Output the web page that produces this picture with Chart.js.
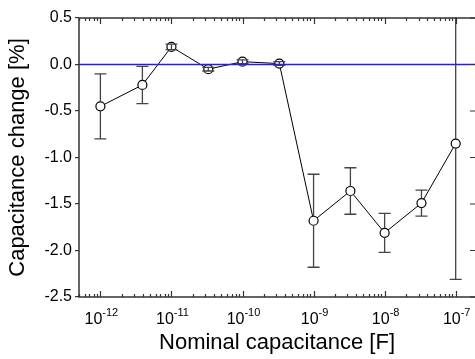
<!DOCTYPE html>
<html>
<head>
<meta charset="utf-8">
<script src="https://cdn.jsdelivr.net/npm/chart.js@4.4.1/dist/chart.umd.min.js"></script>
<style>
  html, body { margin: 0; padding: 0; background: #fff; }
  #wrap { width: 475px; height: 359px; }
</style>
</head>
<body>
<div id="wrap"><canvas id="chart"></canvas></div>
<script>
// nominal capacitance [F]
const capacitance = [1e-12, 3.9e-12, 1e-11, 3.3e-11, 1e-10, 3.3e-10, 1e-9, 3.3e-9, 1e-8, 3.3e-8, 1e-7];
// capacitance change [%]
const change = [-0.45, -0.22, 0.19, -0.05, 0.03, 0.01, -1.68, -1.36, -1.81, -1.49, -0.85];
// error (+/-) [%]
const errors = [0.35, 0.20, 0.03, 0.02, 0.02, 0.02, 0.50, 0.25, 0.21, 0.14, 1.46];

const yTicks = [-2.5, -2.0, -1.5, -1.0, -0.5, 0.0, 0.5];
const xExponents = [-12, -11, -10, -9, -8, -7];

const FONT = "'Liberation Sans', Arial, sans-serif";
const AXIS = '#333333';

// error bars, zero line, box and log ticks
const extras = {
    id: 'extras',
    afterDatasetsDraw(chart) {
        const ctx = chart.ctx;
        const x = chart.scales.x, y = chart.scales.y;
        const a = chart.chartArea;
        const r = 4.5;

        ctx.save();
        ctx.beginPath();
        ctx.rect(a.left, a.top - 1, a.right - a.left, a.bottom - a.top + 2);
        ctx.clip();

        // error bars
        ctx.strokeStyle = '#444444';
        ctx.lineWidth = 1.3;
        capacitance.forEach((c, i) => {
            const px = x.getPixelForValue(c);
            const py = y.getPixelForValue(change[i]);
            const top = y.getPixelForValue(change[i] + errors[i]);
            const bot = y.getPixelForValue(change[i] - errors[i]);
            ctx.beginPath();
            if (py - top > r) {
                ctx.moveTo(px, top); ctx.lineTo(px, py - r);
                ctx.moveTo(px, py + r); ctx.lineTo(px, bot);
            } else {
                ctx.moveTo(px, top); ctx.lineTo(px, bot);
            }
            ctx.moveTo(px - 6, top); ctx.lineTo(px + 6, top);
            ctx.moveTo(px - 6, bot); ctx.lineTo(px + 6, bot);
            ctx.stroke();
        });

        // zero line
        const y0 = y.getPixelForValue(0);
        ctx.strokeStyle = '#2020ee';
        ctx.lineWidth = 1.3;
        ctx.beginPath();
        ctx.moveTo(a.left, y0);
        ctx.lineTo(a.right, y0);
        ctx.stroke();
        ctx.restore();

        // frame
        ctx.save();
        ctx.strokeStyle = AXIS;
        ctx.lineWidth = 1.5;
        ctx.beginPath();
        ctx.moveTo(a.right, a.top);
        ctx.lineTo(a.left, a.top);
        ctx.lineTo(a.left, a.bottom);
        ctx.lineTo(a.right, a.bottom);
        ctx.stroke();

        // right side ticks, pointing in
        ctx.lineWidth = 1.2;
        ctx.beginPath();
        yTicks.forEach(v => {
            const py = y.getPixelForValue(v);
            ctx.moveTo(a.right, py);
            ctx.lineTo(a.right - 5, py);
        });
        ctx.stroke();

        // log ticks on top and bottom, pointing in
        ctx.beginPath();
        for (let e = -13; e <= -7; e++) {
            for (let m = 1; m <= 9; m++) {
                const v = m * Math.pow(10, e);
                if (v < x.min * 0.999 || v > x.max * 1.001) continue;
                const px = Math.round(x.getPixelForValue(v)) + 0.5;
                const len = m === 1 ? 6 : 3;
                ctx.moveTo(px, a.bottom); ctx.lineTo(px, a.bottom - len);
                ctx.moveTo(px, a.top); ctx.lineTo(px, a.top + len);
            }
        }
        ctx.stroke();

        // x labels 10^n
        ctx.fillStyle = '#000';
        ctx.textBaseline = 'alphabetic';
        xExponents.forEach(e => {
            const px = x.getPixelForValue(Math.pow(10, e));
            ctx.font = '16px ' + FONT;
            const wBase = ctx.measureText('10').width;
            ctx.font = '11px ' + FONT;
            const wExp = ctx.measureText(String(e)).width;
            const start = px - (wBase + wExp) / 2 + 1;
            ctx.font = '16px ' + FONT;
            ctx.textAlign = 'left';
            ctx.fillText('10', start, a.bottom + 27);
            ctx.font = '11px ' + FONT;
            ctx.fillText(String(e), start + wBase, a.bottom + 19);
        });
        ctx.restore();
    }
};

new Chart(document.getElementById('chart'), {
    type: 'line',
    data: {
        datasets: [{
            data: capacitance.map((c, i) => ({ x: c, y: change[i] })),
            borderColor: '#000',
            borderWidth: 1,
            pointRadius: 4.5,
            pointBackgroundColor: '#fff',
            pointBorderColor: '#000',
            pointBorderWidth: 1.2,
            tension: 0
        }]
    },
    options: {
        responsive: true,
        maintainAspectRatio: false,
        animation: false,
        events: [],
        layout: { autoPadding: false, padding: { left: 5, right: 0, top: 18, bottom: 3 } },
        plugins: { legend: { display: false }, tooltip: { enabled: false } },
        scales: {
            x: {
                type: 'logarithmic',
                min: 5e-13,
                max: 1.87e-7,
                grid: { display: false },
                border: { display: false },
                ticks: { display: false },
                title: {
                    display: true,
                    text: 'Nominal capacitance [F]',
                    color: '#000',
                    font: { family: FONT, size: 22 },
                    padding: 0
                },
                afterFit(s) { s.height = 59; }
            },
            y: {
                min: -2.5,
                max: 0.5,
                afterBuildTicks(s) { s.ticks = yTicks.map(v => ({ value: v })); },
                grid: { drawOnChartArea: false, drawTicks: true, tickLength: 4, color: AXIS, lineWidth: 1.2 },
                border: { display: false },
                ticks: {
                    color: '#000',
                    padding: 3,
                    font: { family: FONT, size: 16 },
                    callback: v => v.toFixed(1)
                },
                title: {
                    display: true,
                    text: 'Capacitance change [%]',
                    color: '#000',
                    font: { family: FONT, size: 22 },
                    padding: 0
                },
                afterFit(s) { s.width = 74; }
            }
        }
    },
    plugins: [extras]
});
</script>
</body>
</html>
